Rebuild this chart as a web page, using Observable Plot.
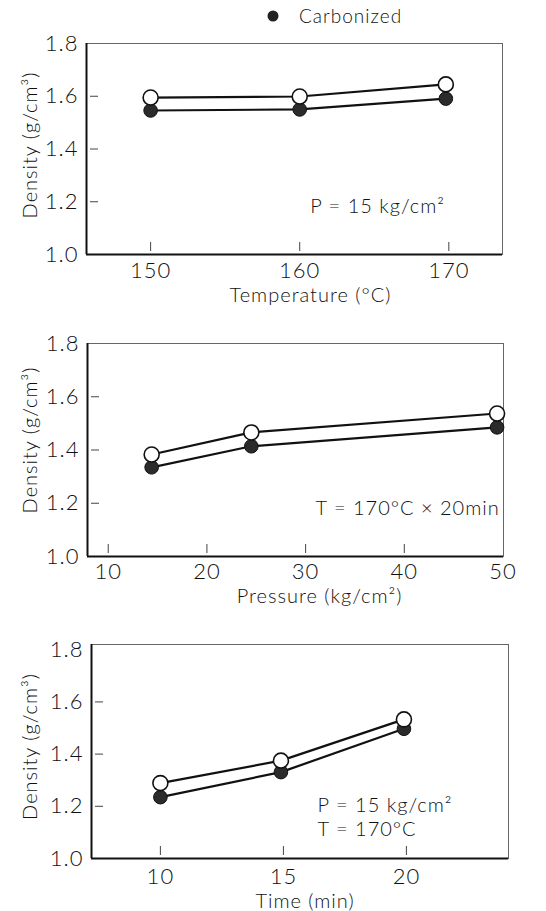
<!DOCTYPE html>
<html><head><meta charset="utf-8">
<script src="https://cdn.jsdelivr.net/npm/d3@7"></script>
<script src="https://cdn.jsdelivr.net/npm/@observablehq/plot@0.6"></script>
<style>
body{margin:0;background:#fff;}
#wrap{position:relative;width:546px;height:911px;overflow:hidden;font-family:Lato,"DejaVu Sans",sans-serif;font-weight:300;color:#111;}
.panel{position:absolute;left:0;}
#legend{position:absolute;left:266px;top:3px;font-size:19px;letter-spacing:1px;display:flex;align-items:center;gap:19px;line-height:26px;}
#legend svg{display:block;}
</style></head><body>
<div id="wrap">
  <div id="legend"><svg width="14" height="14"><circle cx="7" cy="7" r="5.5" fill="#222"/></svg><span id="legendText"></span></div>
</div>
<script>
// ---- data ----
const yTicks = [1.0, 1.2, 1.4, 1.6, 1.8];
const yLabel = "Density (g/cm³)";
const legendLabel = "Carbonized";

// Panel 1: temperature
const tempX = [150, 160, 169.8];
const tempRaw = [1.595, 1.599, 1.645];
const tempCarb = [1.546, 1.550, 1.591];
const tempTicks = [150, 160, 170];
const tempLabel = "Temperature (°C)";
const tempNote = "P = 15 kg/cm²";

// Panel 2: pressure
const presX = [14.4, 24.5, 49.4];
const presRaw = [1.383, 1.466, 1.537];
const presCarb = [1.335, 1.414, 1.485];
const presTicks = [10, 20, 30, 40, 50];
const presLabel = "Pressure (kg/cm²)";
const presNote = "T = 170°C × 20min";

// Panel 3: time
const timeX = [10, 14.9, 19.9];
const timeRaw = [1.289, 1.375, 1.533];
const timeCarb = [1.235, 1.331, 1.497];
const timeTicks = [10, 15, 20];
const timeLabel = "Time (min)";
const timeNote = "P = 15 kg/cm²\nT = 170°C";

// ---- drawing ----
document.getElementById("legendText").textContent = legendLabel;
const wrap = document.getElementById("wrap");
const FONT = 'Lato, "DejaVu Sans", sans-serif';

function panel(cfg) {
  const rows = cfg.x.map((xv, i) => ({x: xv, raw: cfg.raw[i], carb: cfg.carb[i]}));
  const innerW = 546 - cfg.ml - cfg.mr;
  const innerH = cfg.height - cfg.mt - cfg.mb;
  const innerY = yTicks.filter(t => t > cfg.yDomain[0] && t < 1.8);
  const innerX = cfg.ticks.filter(t => t > cfg.xDomain[0] && t < cfg.xDomain[1] - 0.5);
  const plot = Plot.plot({
    width: 546, height: cfg.height,
    marginTop: cfg.mt, marginBottom: cfg.mb, marginLeft: cfg.ml, marginRight: cfg.mr,
    style: {fontFamily: FONT, fontSize: "22px", fontWeight: 300, color: "#111", background: "transparent", overflow: "visible", letterSpacing: "1px"},
    x: {domain: cfg.xDomain},
    y: {domain: cfg.yDomain},
    marks: [
      Plot.frame({stroke: "#666", strokeWidth: 1}),
      Plot.ruleX([cfg.xDomain[0]], {stroke: "#111", strokeWidth: 2}),
      Plot.ruleY([cfg.yDomain[0]], {stroke: "#111", strokeWidth: 2}),
      Plot.tickY(innerY, {y: d => d, insetLeft: 4, insetRight: innerW - 12, stroke: "#444", strokeWidth: 1}),
      Plot.tickX(innerX, {x: d => d, insetBottom: 3, insetTop: innerH - 12, stroke: "#444", strokeWidth: 1}),
      Plot.axisY({ticks: yTicks, tickSize: 0, tickPadding: 8, tickFormat: d3.format(".1f"), label: null, fontSize: 22}),
      Plot.axisX({ticks: cfg.ticks, tickSize: 0, tickPadding: cfg.tp, tickFormat: d => String(d), label: null, fontSize: 22}),
      Plot.text([cfg.label], {text: d => d, frameAnchor: "bottom", textAnchor: "middle", lineAnchor: "middle", dx: cfg.ldx, dy: cfg.ldy, fontSize: 20}),
      Plot.text([yLabel], {text: d => d, frameAnchor: "left", textAnchor: "middle", lineAnchor: "middle", rotate: -90, dx: 30 - cfg.ml, dy: cfg.ydy, fontSize: 20, ariaLabel: "ylabel"}),
      Plot.lineY(rows, {x: "x", y: "carb", stroke: "#111", strokeWidth: 2.2}),
      Plot.lineY(rows, {x: "x", y: "raw", stroke: "#111", strokeWidth: 2.2}),
      Plot.dot(rows, {x: "x", y: "carb", r: 6.8, fill: "#2b2b2b", stroke: "#111", strokeWidth: 1}),
      Plot.dot(rows, {x: "x", y: "raw", r: 7.5, fill: "white", stroke: "#111", strokeWidth: 1.6}),
      Plot.text([cfg.note], {text: d => d, x: cfg.noteAt[0], y: cfg.noteAt[1], textAnchor: "start", fontSize: 20, lineHeight: 1.2, ariaLabel: "note"})
    ]
  });
  const yl = plot.querySelector('[aria-label="ylabel"]');
  if (yl) yl.style.letterSpacing = "2.5px";
  const nt = plot.querySelector('[aria-label="note"]');
  if (nt) nt.style.letterSpacing = "-0.6px";
  plot.classList.add("panel");
  plot.style.top = cfg.top + "px";
  wrap.appendChild(plot);
}

panel({x: tempX, raw: tempRaw, carb: tempCarb, ticks: tempTicks, label: tempLabel, note: tempNote,
  xDomain: [145.7, 173.6], yDomain: [1.0, 1.8], noteAt: [160.7, 1.186],
  top: 0, height: 300, mt: 43, mb: 46, ml: 86, mr: 44, tp: 8, ldx: 16, ldy: 41, ydy: -4});

panel({x: presX, raw: presRaw, carb: presCarb, ticks: presTicks, label: presLabel, note: presNote,
  xDomain: [7.9, 50.05], yDomain: [1.0, 1.8], noteAt: [31.0, 1.184],
  top: 300, height: 300, mt: 43, mb: 44, ml: 87, mr: 43, tp: 7, ldx: 24, ldy: 40, ydy: -10});

panel({x: timeX, raw: timeRaw, carb: timeCarb, ticks: timeTicks, label: timeLabel, note: timeNote,
  xDomain: [7.2, 24.15], yDomain: [1.0, 1.82], noteAt: [16.39, 1.163],
  top: 600, height: 311, mt: 44, mb: 53, ml: 91, mr: 38, tp: 10, ldx: 5, ldy: 43, ydy: -5});
</script>
</body></html>
